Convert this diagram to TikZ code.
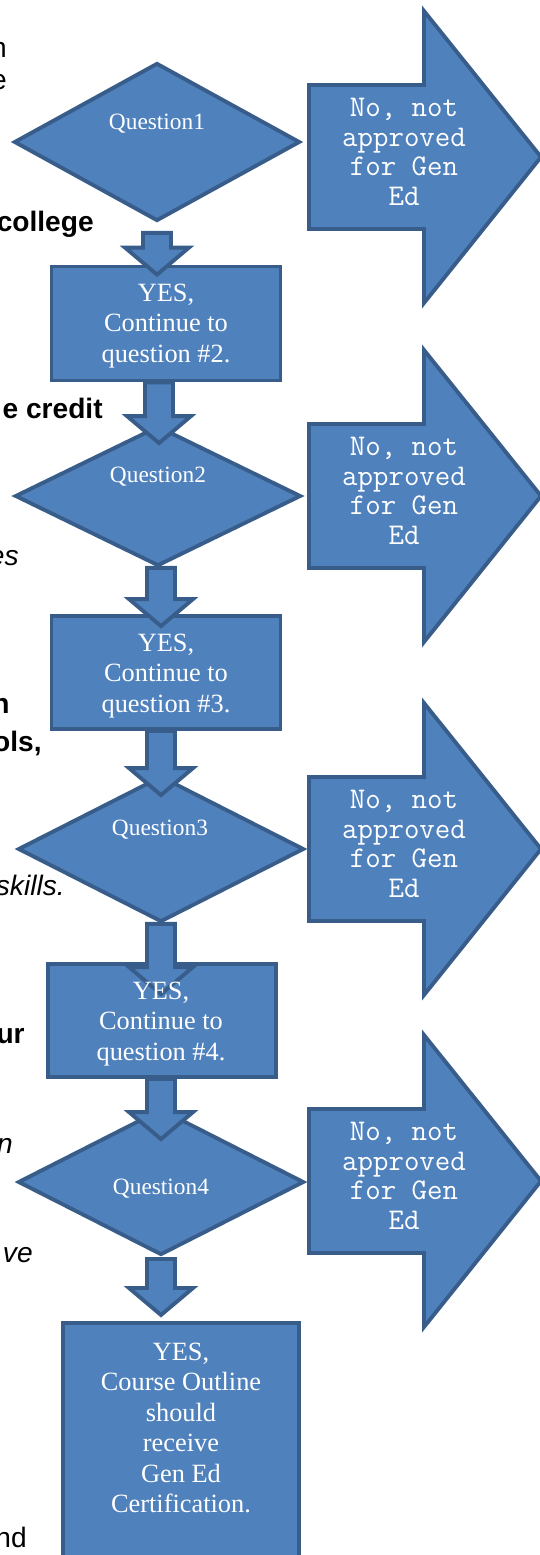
\documentclass[tikz,border=0pt]{standalone}
\usepackage{fontspec}
\usetikzlibrary{calc}
\usetikzlibrary{shapes.geometric}
\usetikzlibrary{positioning}

\newfontfamily\boxfont{Liberation Serif}
\newfontfamily\bodyfont{Liberation Sans}

\definecolor{officeblue}{HTML}{4F81BD}
\definecolor{officeedge}{HTML}{385D8A}

% block arrow pointing down, from #1 to the tip #2
\newcommand{\blockarr}[2]{%
    \filldraw [blockshape] let \p1=(#1), \p2=(#2) in
        (\x1-0.28cm,\y1) -- (\x1-0.28cm,\y2+0.54cm) -- (\x1-0.64cm,\y2+0.54cm) -- (\x1,\y2)
        -- (\x1+0.64cm,\y2+0.54cm) -- (\x1+0.28cm,\y2+0.54cm) -- (\x1+0.28cm,\y1) -- cycle;
}

\begin{document}
\begin{tikzpicture}[x=0.02cm, y=-0.02cm]
    \tikzset{
        blockshape/.style={fill=officeblue, draw=officeedge, line width=2.2pt},
        decision/.style={blockshape, diamond, inner sep=0pt},
        stepbox/.style={blockshape, rectangle, inner sep=0pt},
        steptext/.style={text=white, align=center, font=\boxfont\fontsize{15}{17.4}\selectfont},
        qtext/.style={text=white, font=\boxfont\fontsize{13.3}{16}\selectfont},
        notext/.style={text=white, align=center, font=\ttfamily\fontsize{17.1}{16.9}\selectfont},
        bodytext/.style={anchor=base east, inner sep=0pt, font=\bodyfont\fontsize{16}{18}\selectfont},
        boldtext/.style={bodytext, font=\bodyfont\fontsize{16}{18}\selectfont\bfseries},
        italtext/.style={bodytext, font=\bodyfont\fontsize{16}{18}\selectfont\itshape}
    }
    \useasboundingbox (0,0) rectangle (540,1555);

    % text of the page, cut at the left edge
    \node [bodytext] (p1) at (7,57) {n};
    \node [bodytext] (p2) at (7,89) {e};
    \node [boldtext] (p3) at (94,231) {college};
    \node [boldtext] (p4) at (103,418) {e credit};
    \node [italtext] (p5) at (19,565) {es};
    \node [boldtext] (p6) at (10,713) {n};
    \node [boldtext] (p7) at (42,751) {ols,};
    \node [italtext] (p8) at (65,895) {skills.};
    \node [boldtext] (p9) at (25,1043) {ur};
    \node [italtext] (p10) at (13,1153) {n};
    \node [italtext] (p11) at (33,1262) {ve};
    \node [bodytext] (p12) at (27,1547) {nd};

    % questions
    \node [decision, minimum width=5.72cm, minimum height=3.16cm] (d1) at (157,142) {};
    \node [decision, minimum width=5.72cm, minimum height=2.8cm] (d2) at (158,496) {};
    \node [decision, minimum width=5.72cm, minimum height=2.92cm] (d3) at (161,849) {};
    \node [decision, minimum width=5.72cm, minimum height=2.92cm] (d4) at (161,1182) {};

    % yes boxes
    \node [stepbox, minimum width=4.58cm, minimum height=2.28cm] (b1) at (166,323.5) {};
    \node [stepbox, minimum width=4.58cm, minimum height=2.26cm] (b2) at (166,672.5) {};
    \node [stepbox, minimum width=4.56cm, minimum height=2.26cm] (b3) at (162,1020.5) {};
    \node [stepbox, minimum width=4.72cm, minimum height=5.1cm, anchor=north] (b4) at (181,1321) {};

    % no branches
    \foreach \cy [count=\n] in {157,496,849,1181} {
        \filldraw [blockshape] (309,\cy-72) -- (424,\cy-72) -- (424,\cy-146) -- (541,\cy)
            -- (424,\cy+146) -- (424,\cy+72) -- (309,\cy+72) -- cycle;
        \node [notext] (no\n) at (404,\cy-5) {No, not\\approved\\for Gen\\Ed};
    }

    % yes connectors
    \blockarr{$(d1.south)+(0,10)$}{$(b1.north)+(-9,10)$}
    \blockarr{$(b1.south)+(-7,0)$}{$(d2.north)+(1,19)$}
    \blockarr{$(d2.south)+(3,0)$}{$(b2.north)+(-5,12)$}
    \blockarr{$(b2.south)+(-5,0)$}{$(d3.north)+(0,21)$}
    \blockarr{$(d3.south)+(0,0)$}{$(b3.north)+(-1,32)$}
    \blockarr{$(b3.south)+(-1,0)$}{$(d4.north)+(0,32)$}
    \blockarr{$(d4.south)+(0,2)$}{$(b4.north)+(-20,-6)$}

    \node [qtext] (q1) at (157,124) {Question1};
    \node [qtext] (q2) at (158,477) {Question2};
    \node [qtext] (q3) at (160,830) {Question3};
    \node [qtext] (q4) at (161,1189) {Question4};

    \node [steptext] (t1) at (166,326) {YES,\\Continue to\\question \#2.};
    \node [steptext] (t2) at (166,676) {YES,\\Continue to\\question \#3.};
    \node [steptext] (t3) at (161,1024) {YES,\\Continue to\\question \#4.};
    \node [steptext] (t4) at (181,1428) {YES,\\Course Outline\\should\\receive\\Gen Ed\\Certification.};
\end{tikzpicture}
\end{document}
